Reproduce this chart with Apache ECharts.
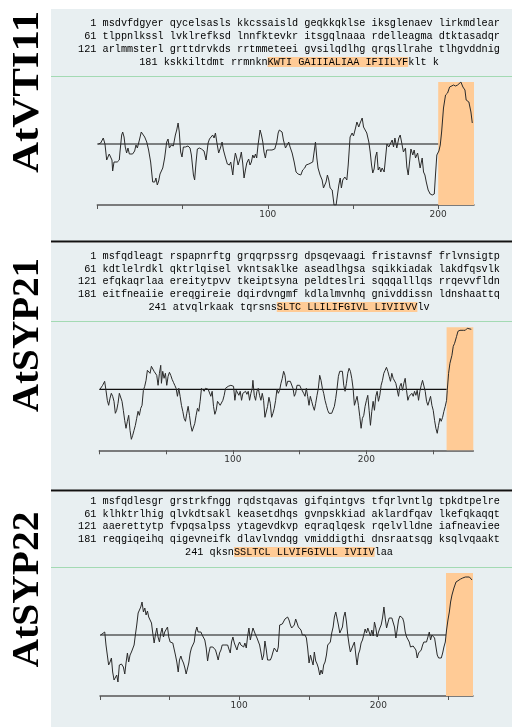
<!DOCTYPE html>
<html><head><meta charset="utf-8">
<script src="https://cdn.jsdelivr.net/npm/echarts@6/dist/echarts.min.js"></script>
<style>html,body{margin:0;padding:0;background:#fff}#c{width:512px;height:727px}</style>
</head><body><div id="c"></div><script>
// ---- names ----
const proteinNames = ["AtVTI11", "AtSYP21", "AtSYP22"];
// ---- sequences (uppercase = transmembrane segment) ----
const vti11Seq = [
  "msdvfdgyer qycelsasls kkcssaisld geqkkqklse iksglenaev lirkmdlear",
  "tlppnlkssl lvklrefksd lnnfktevkr itsgqlnaaa rdelleagma dtktasadqr",
  "arlmmsterl grttdrvkds rrtmmeteei gvsilqdlhg qrqsllrahe tlhgvddnig",
  "kskkiltdmt rrmnknKWTI GAIIIALIAA IFIILYFklt k"];
const syp21Seq = [
  "msfqdleagt rspapnrftg grqqrpssrg dpsqevaagi fristavnsf frlvnsigtp",
  "kdtlelrdkl qktrlqisel vkntsaklke aseadlhgsa sqikkiadak lakdfqsvlk",
  "efqkaqrlaa ereitytpvv tkeiptsyna peldteslri sqqqalllqs rrqevvfldn",
  "eitfneaiie ereqgireie dqirdvngmf kdlalmvnhq gnivddissn ldnshaattq",
  "atvqlrkaak tqrsnsSLTC LLILIFGIVL LIVIIVVlv"];
const syp22Seq = [
  "msfqdlesgr grstrkfngg rqdstqavas gifqintgvs tfqrlvntlg tpkdtpelre",
  "klhktrlhig qlvkdtsakl keasetdhqs gvnpskkiad aklardfqav lkefqkaqqt",
  "aaerettytp fvpqsalpss ytagevdkvp eqraqlqesk rqelvlldne iafneaviee",
  "reqgiqeihq qigevneifk dlavlvndqg vmiddigthi dnsraatsqg ksqlvqaakt",
  "qksnSSLTCL LLVIFGIVLL IVIIVlaa"];
// ---- protein lengths & TM region (residues) ----
const proteinLengths = [221, 280, 268];
const tmStarts = [200, 260, 248.6];
// ---- x-axis ticks ----
const tickValues = [0, 50, 100, 150, 200, 250];
const tickLabels = [100, 200];
// ---- hydropathy profiles [residue, score (scaled)] ----
const vti11Profile = [[0.6,0],[2.0,1],[3.5,6],[4.5,0],[5.5,-16],[6.1,-18],[7.0,-10],[7.8,-13],[8.6,-16],[9.0,-27],[9.8,-18],[10.6,-20],[11.7,-18],[12.9,-16],[13.3,-8],[14.3,9],[14.9,12],[15.7,7],[16.4,-3],[17.2,-9],[18.0,-4],[18.8,-10],[19.6,-8],[20.7,-10],[21.9,-7],[22.7,-1],[23.5,-4],[24.7,4],[25.8,12],[26.6,14],[27.8,7],[29.0,2],[30.1,-6],[31.3,-18],[32.5,-38],[33.7,-38],[34.4,-34],[35.2,-41],[36.0,-37],[36.8,-30],[37.6,-31],[38.4,-24],[39.5,-14],[40.7,2],[41.5,5],[42.3,-4],[43.4,-1],[44.6,-2],[45.8,9],[46.6,14],[47.4,21],[48.1,12],[48.9,-8],[49.7,-13],[50.5,-3],[51.7,-3],[53.2,-2],[54.4,-4],[55.2,-11],[56.4,-31],[57.1,-36],[57.9,-19],[58.7,-5],[59.9,-4],[61.1,-5],[62.6,-7],[63.8,-16],[65.0,1],[65.8,5],[66.5,6],[67.7,9],[68.5,6],[69.3,11],[70.1,2],[71.2,-9],[72.4,-3],[73.2,2],[74.0,-6],[75.1,-13],[76.3,-20],[77.5,-21],[78.3,-18],[79.5,-31],[80.2,-18],[81.0,-9],[81.8,-14],[82.6,-21],[83.8,-14],[84.5,-8],[85.3,-19],[86.1,-34],[86.9,-26],[87.7,-19],[88.8,-15],[89.6,-21],[90.4,-18],[91.2,-11],[92.0,-14],[92.8,-10],[93.5,-14],[94.3,-1],[95.5,14],[96.3,9],[97.1,2],[97.8,-8],[98.6,-14],[99.4,-6],[101.0,-6],[102.5,-6],[104.1,-5],[105.3,2],[106.1,11],[106.8,14],[107.6,16],[108.4,12],[109.2,4],[110.4,-4],[111.2,-2],[112.3,2],[113.1,-3],[114.3,-9],[115.5,-18],[116.6,-28],[117.8,-30],[118.6,-28],[119.4,-31],[120.5,-26],[121.7,-24],[122.5,-21],[123.3,-23],[124.1,-20],[125.2,-18],[126.4,-18],[127.2,-16],[128.0,2],[128.8,-14],[129.5,-24],[130.7,-31],[131.9,-36],[132.7,-44],[133.5,-46],[134.2,-38],[135.0,-31],[135.8,-36],[136.6,-44],[137.8,-46],[138.9,-61],[140.1,-61],[140.9,-51],[141.7,-41],[142.5,-34],[143.2,-44],[144.0,-36],[145.2,-33],[146.4,-36],[147.2,-21],[148.3,7],[149.5,11],[150.3,8],[151.5,16],[152.3,22],[153.4,17],[154.2,21],[155.4,26],[156.2,17],[156.9,19],[158.1,11],[159.3,2],[160.1,-8],[160.9,-21],[161.6,-29],[162.4,-25],[163.2,-13],[164.0,-8],[164.8,-26],[165.6,-23],[166.3,-28],[167.1,-24],[168.3,-28],[169.1,-14],[169.9,0],[171.0,-3],[171.8,-1],[173.0,4],[173.8,-3],[174.6,6],[175.7,-4],[176.9,6],[177.7,9],[178.5,2],[179.6,-8],[180.8,-4],[181.6,-23],[182.4,-31],[183.2,-18],[184.0,-5],[185.1,-11],[185.9,-6],[186.7,-14],[187.9,-9],[188.6,-16],[189.4,-24],[190.6,-14],[191.4,-28],[192.2,-31],[193.0,-38],[194.1,-46],[195.3,-50],[196.5,-51],[197.7,-50],[198.4,-31],[199.2,-11],[200.4,-7],[201.2,-1],[202.0,12],[203.1,36],[204.3,49],[205.5,51],[206.7,57],[207.8,55],[209.0,59],[210.2,58],[211.4,59],[212.5,61],[213.3,62],[214.5,57],[215.7,54],[216.4,44],[217.2,46],[218.0,42],[219.2,32],[220.0,21]];
const syp21Profile = [[0.5,0],[2.5,4],[4,8],[5,-1],[6,-11],[7,-16],[8,-9],[9,-4],[10,-7],[11,-12],[12,-24],[13,-21],[14,-14],[15,-4],[16,-2],[17,-12],[18,-21],[19,-31],[20,-39],[21,-32],[22,-26],[23,-41],[24,-50],[25,-46],[26,-41],[27,-36],[28,-29],[29,-22],[30,-26],[31,-19],[32,-16],[33,-1],[34,3],[35,9],[36,19],[37,21],[38,16],[39,23],[40,21],[41,18],[42,19],[43,14],[44,4],[45,16],[46,24],[46.5,6],[47.5,18],[48.5,11],[49.5,16],[50.5,4],[51.5,13],[52.5,17],[53.5,14],[54.5,10],[55.5,7],[56.5,4],[57.5,1],[58.5,-7],[59.5,1],[60.5,-7],[61.5,-16],[62.5,-22],[63.5,-29],[64.5,-32],[65.5,-24],[66.5,-17],[67.5,-26],[68.5,-36],[69.5,-42],[70.5,-41],[71.5,-34],[72.5,-26],[73.5,-19],[74.5,-22],[75.5,-12],[76.5,1],[77.5,3],[78.5,-2],[79.5,1],[80.5,-1],[81.5,0],[82.5,-1],[83.5,-7],[84.5,-2],[85.5,-17],[86.5,-25],[87.5,-21],[88.5,-12],[89.5,-11],[90.5,-16],[91.5,-17],[92.5,-11],[93.5,-6],[94.5,1],[95.5,3],[96.5,3],[97.5,3],[98.5,4],[99.5,6],[100.5,3],[101.5,-11],[102.5,-1],[103.5,-2],[104.5,-6],[105.5,-2],[106.5,-11],[107.5,-4],[108.5,-5],[109.5,-2],[110.5,-5],[111.5,-2],[112.5,-11],[113.5,-4],[114.5,1],[115,9],[116,-6],[117,-11],[118,-2],[119,1],[120,-6],[121,-11],[122,-4],[123,-11],[124,-28],[125,-28],[126,-17],[127,-8],[128,-14],[129,-28],[130,-24],[131,-19],[132,-11],[133,0],[134,-4],[135,-1],[136,6],[137,11],[138,18],[139,14],[140,3],[141,8],[142,10],[143,8],[144,6],[145,1],[146,-7],[147,-4],[148,4],[149,5],[150,4],[151,1],[152,-1],[153,-4],[154,-7],[155,1],[156,-7],[157,-16],[158,-7],[159,-12],[160,-17],[161,-21],[162,-14],[163,-6],[164,1],[165,14],[166,9],[167,1],[168,-4],[169,-11],[170,-16],[171,-21],[172,-24],[173,-25],[174,-24],[175,-22],[176,-17],[177,-9],[178,1],[179,13],[180,18],[181,20],[182,18],[183,4],[184,-2],[185,6],[186,16],[187,21],[188,18],[189,11],[190,1],[191,-16],[192,-17],[193,-7],[194,-16],[195,-27],[196,-39],[197,-29],[198,-26],[199,-17],[200,-11],[201,-6],[202,-21],[203,-36],[204,-22],[205,-12],[206,-21],[207,-7],[208,-2],[209,-12],[210,-6],[211,4],[212,9],[213,16],[214,19],[215,22],[216,18],[217,13],[218,8],[219,16],[220,11],[221,10],[222,6],[223,4],[224,-7],[225,3],[226,6],[227,-1],[228,6],[229,11],[230,-1],[231,-11],[232,-7],[233,-6],[234,-4],[235,-7],[236,-2],[237,-6],[238,-1],[239,-11],[240,-2],[241,4],[242,9],[243,9],[244,-2],[245,-12],[246,-16],[247,-14],[248,-7],[249,-16],[250,-21],[251,-31],[252,-39],[253,-44],[254,-36],[255,-29],[256,-32],[257,-28],[258,-22],[259,-17],[260,-11],[260.5,-1],[261.5,16],[262.5,26],[264,34],[265,43],[266,46],[267.5,53],[268.5,58],[270,59],[272.5,59],[274,59],[275.5,61],[276.5,60],[278.5,60]];
const syp22Profile = [[0.5,0],[1.9,1],[3.4,3],[4.3,-10],[5.3,-12],[6.2,-30],[7.2,-27],[8.2,-23],[9.1,-37],[10.1,-45],[11,-47],[12,-40],[12.9,-47],[13.9,-30],[15.4,-29],[16.8,-32],[17.8,-39],[18.7,-28],[19.7,-18],[20.6,-27],[21.6,-20],[22.6,-17],[23.5,-16],[24.5,-10],[25.4,0],[26.4,10],[27.4,22],[28.3,20],[29.3,28],[30.2,33],[31.2,23],[32.2,27],[33.1,20],[34.1,24],[35,18],[36,15],[37,12],[37.9,2],[38.9,-8],[39.8,0],[40.8,7],[41.7,-2],[42.7,-7],[43.7,2],[44.6,7],[45.6,-2],[46.5,3],[47.5,5],[48.5,8],[49.4,-2],[50.4,-7],[51.3,-5],[52.3,-8],[53.3,-10],[54.2,-20],[55.2,-27],[56.2,-37],[57.1,-25],[58.1,-21],[59,-25],[60,-28],[61,-33],[61.9,-39],[62.9,-40],[63.8,-28],[64.8,-18],[65.7,-13],[66.7,-15],[67.7,-7],[68.6,3],[69.6,8],[70.5,3],[71.5,5],[72.5,3],[73.4,0],[74.4,-2],[75.3,-5],[76.3,-13],[77.3,-26],[78.2,-18],[79.2,-12],[80.1,-10],[81.1,-12],[82.1,-12],[83,-15],[84,-20],[84.9,-25],[85.9,-18],[86.9,-15],[87.8,-10],[88.8,-8],[89.7,-10],[90.7,-8],[91.7,-10],[92.6,-14],[93.6,-18],[94.5,-7],[95.5,-2],[96.5,-8],[97.4,-10],[98.4,-15],[99.3,-10],[100.3,-7],[101.2,-10],[102.2,-10],[103.2,-12],[104.1,-8],[105.1,-13],[106,-2],[107,7],[108,-5],[108.9,-7],[109.9,7],[110.8,7],[111.8,0],[112.8,-3],[113.7,-2],[114.7,-10],[115.6,-17],[116.6,-25],[117.6,-20],[118.5,-6],[119.5,-15],[120.4,-25],[121.4,-23],[122.4,-25],[123.3,-22],[124.3,-17],[125.2,-13],[126.2,-15],[127.2,-17],[128.1,-12],[129.1,10],[130,12],[131,11],[132,13],[132.9,16],[133.9,18],[134.8,18],[135.8,15],[136.8,10],[137.7,7],[138.7,8],[139.6,10],[140.6,16],[141.6,12],[142.5,8],[143.5,7],[144.4,5],[145.4,0],[146.4,2],[147.3,0],[148.3,-3],[149.2,-13],[150.2,-28],[151.2,-20],[152.1,-25],[153.1,-30],[154,-17],[155,-26],[156,-29],[156.9,-33],[157.9,-40],[158.8,-35],[159.8,-39],[160.7,-30],[161.7,-27],[162.7,-20],[163.6,-10],[164.6,-10],[165.5,-7],[166.5,2],[167.5,8],[168.4,18],[169.4,23],[170.3,22],[171.3,10],[172.3,2],[173.2,0],[174.2,8],[175.1,18],[176.1,23],[177.1,13],[178,0],[179,-10],[179.9,-17],[180.9,-17],[181.9,-10],[182.8,-7],[183.8,-20],[184.7,-30],[185.7,-19],[186.7,-15],[187.6,-8],[188.6,-5],[189.5,0],[190.5,6],[191.5,2],[192.4,7],[193.4,3],[194.3,-1],[195.3,5],[196.3,-1],[197.2,13],[198.2,7],[199.1,-2],[200.1,3],[201.1,7],[202,10],[203,17],[204,28],[204.9,17],[205.9,7],[206.8,12],[207.8,17],[208.7,17],[209.7,17],[210.7,17],[211.6,8],[212.6,-3],[213.5,5],[214.5,15],[215.5,19],[216.4,20],[217.4,17],[218.3,13],[219.3,3],[220.3,-2],[221.2,0],[222.2,-7],[223.1,-12],[224.1,-12],[225,-11],[226,-11],[227,-15],[227.9,-23],[228.9,-18],[229.8,-20],[230.8,-15],[231.8,-10],[232.7,-7],[233.7,-8],[234.6,-7],[235.6,-5],[236.6,3],[237.5,-5],[238.5,0],[239.4,-1],[240.4,-3],[241.4,-12],[242.3,-20],[243.3,-23],[244.2,-25],[245.2,-23],[246.2,-18],[247.1,-12],[248.1,-7],[249,5],[250,15],[251,23],[251.9,33],[252.9,40],[254.3,47],[255.8,53],[257.2,55],[259.1,56],[260.6,57],[262.5,58],[263.9,60],[265.4,58],[267.3,55]];

const profiles = [vti11Profile, syp21Profile, syp22Profile];
const sequences = [vti11Seq, syp21Seq, syp22Seq];

// ---- layout ----
const SCORE_MIN = -61, SCORE_MAX = 62;
const grids = [
  {left: 97.3, top: 82, width: 376.7, height: 123},
  {left: 99.3, top: 327.3, width: 374, height: 123},
  {left: 100, top: 573, width: 373, height: 123}
];
const panelTops = [9, 243, 492];
const panelBottoms = [241, 490, 727];
const greenLineY = [76, 321, 567];
const textRowY = [[23.5, 36, 49, 62], [256, 269, 281.7, 294.5, 307], [501, 514, 526.7, 539.5, 552]];
const labelCenterY = [92, 335, 589.5];
const labelStretch = [1.13, 1.03, 1.04];
const ORANGE = '#ffcb96';
const BG = '#e8eff1';

const graphics = [];
panelTops.forEach((t, i) => {
  graphics.push({type: 'rect', shape: {x: 51, y: t, width: 461, height: panelBottoms[i] - t}, style: {fill: BG}, z: -10, silent: true});
  graphics.push({type: 'rect', shape: {x: 51, y: greenLineY[i], width: 461, height: 1}, style: {fill: '#a3dab3'}, z: -9, silent: true});
});
[241, 490].forEach(y => graphics.push({type: 'rect', shape: {x: 51, y: y - 0.5, width: 461, height: 2}, style: {fill: '#111'}, z: -8, silent: true}));

const monoFont = '"Liberation Mono", "DejaVu Sans Mono", monospace';
function richLine(str) {
  // split into normal / highlighted (uppercase run) tokens
  const m = str.match(/[A-Z][A-Z ]*[A-Z]/);
  if (!m) return '{n|' + str + '}';
  const a = str.slice(0, m.index), b = m[0], c = str.slice(m.index + b.length);
  return (a ? '{n|' + a + '}' : '') + '{h|' + b + '}' + (c ? '{n|' + c + '}' : '');
}
sequences.forEach((rows, p) => {
  rows.forEach((row, r) => {
    const num = String(1 + 60 * r).padStart(3, ' ');
    const line = num + ' ' + row;
    graphics.push({
      type: 'text', x: 289, y: textRowY[p][r], z: 5, silent: true,
      style: {
        text: richLine(line), textAlign: 'center', textVerticalAlign: 'middle',
        rich: {
          n: {fontFamily: monoFont, fontSize: 10.2, color: '#1a1a1a', lineHeight: 11},
          h: {fontFamily: monoFont, fontSize: 10.2, color: '#1a1a1a', lineHeight: 11, backgroundColor: ORANGE}
        }
      }
    });
  });
});
proteinNames.forEach((name, i) => {
  graphics.push({
    type: 'text', x: 28, y: labelCenterY[i], rotation: Math.PI / 2, scaleX: labelStretch[i], scaleY: 1, z: 5, silent: true,
    style: {text: name, font: 'bold 38px "Liberation Serif", "DejaVu Serif", serif', fill: '#000', textAlign: 'center', textVerticalAlign: 'middle'}
  });
});

const xAxes = [], yAxes = [], series = [];
proteinLengths.forEach((len, i) => {
  const ticks = tickValues.filter(v => v <= len);
  xAxes.push({
    type: 'value', gridIndex: i, min: 0, max: len, interval: 50,
    axisLine: {show: true, onZero: false, lineStyle: {color: '#555', width: 1.5}},
    axisTick: {show: true, length: 4, customValues: ticks, lineStyle: {color: '#555', width: 1}},
    axisLabel: {show: true, customValues: tickLabels, margin: 5, fontSize: 9, color: '#333', fontFamily: 'DejaVu Sans, sans-serif'},
    splitLine: {show: false}
  });
  yAxes.push({type: 'value', gridIndex: i, min: SCORE_MIN, max: SCORE_MAX, show: false, splitLine: {show: false}});
  series.push({
    type: 'line', xAxisIndex: i, yAxisIndex: i, z: 2,
    data: [[0, 0], [tmStarts[i], 0]], showSymbol: false, silent: true,
    lineStyle: {color: '#111', width: 1.2},
    markArea: {silent: true, itemStyle: {color: ORANGE}, data: [[{xAxis: tmStarts[i], yAxis: SCORE_MAX}, {xAxis: len, yAxis: SCORE_MIN}]]}
  });
  series.push({
    type: 'line', name: proteinNames[i], xAxisIndex: i, yAxisIndex: i, z: 3,
    data: profiles[i], showSymbol: false, silent: true,
    lineStyle: {color: '#2a2a2a', width: 1}
  });
});

const chart = echarts.init(document.getElementById('c'));
chart.setOption({
  animation: false,
  backgroundColor: '#fff',
  grid: grids,
  xAxis: xAxes,
  yAxis: yAxes,
  series: series,
  graphic: graphics
});
</script></body></html>
